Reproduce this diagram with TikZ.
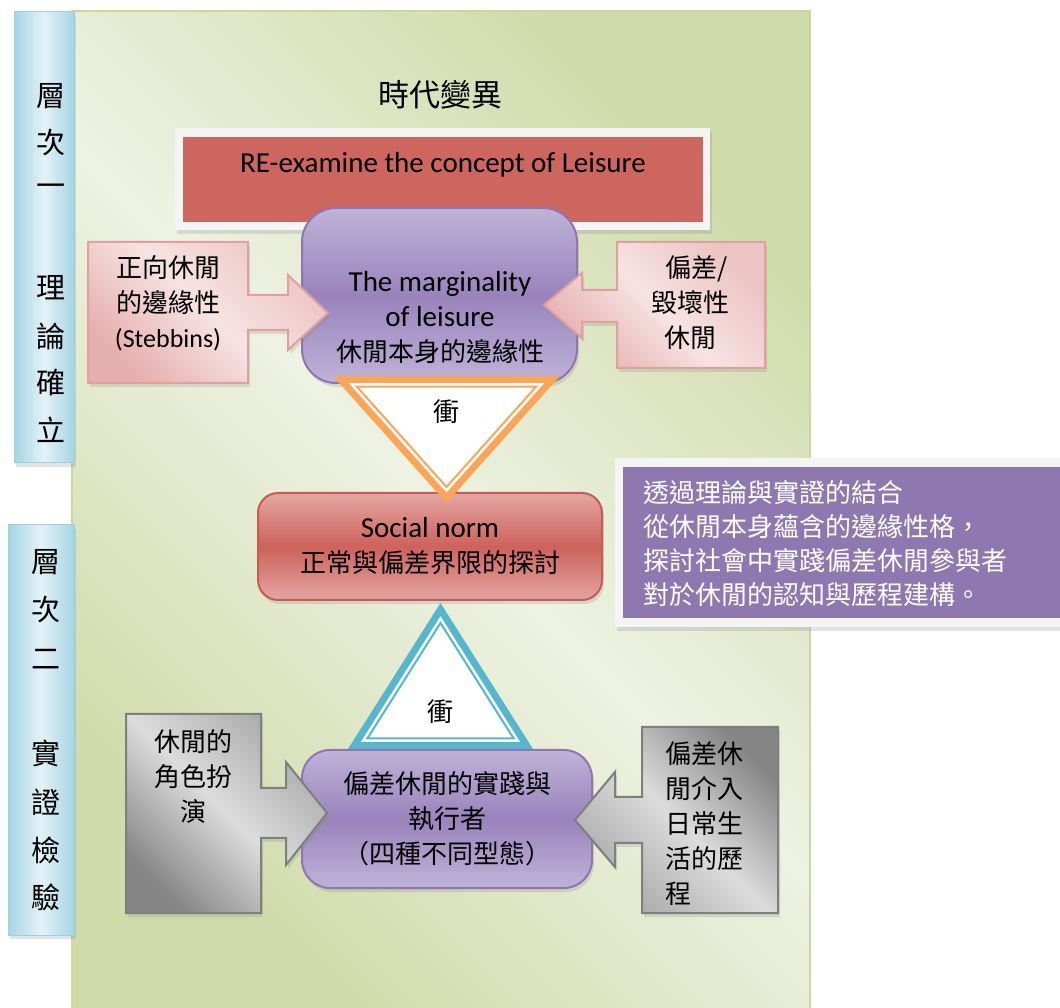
\documentclass[tikz,border=0pt]{standalone}
\usepackage{fontspec}
\setmainfont{Carlito}
\newfontfamily\cjk{Noto Sans CJK TC}
\usetikzlibrary{calc,shadows}

\definecolor{panellight}{HTML}{EEF2E3}
\definecolor{paneldark}{HTML}{CFDBA9}
\definecolor{panelline}{HTML}{C9D89F}
\definecolor{barblue}{HTML}{A4D5E4}
\definecolor{barlight}{HTML}{E4F2F8}
\definecolor{baredge}{HTML}{9CCFDF}
\definecolor{rered}{HTML}{CD665F}
\definecolor{framewhite}{HTML}{F4F4F4}
\definecolor{normred}{HTML}{CD625B}
\definecolor{normlight}{HTML}{E4A6A3}
\definecolor{normedge}{HTML}{C65B55}
\definecolor{purpedge}{HTML}{9274B3}
\definecolor{purpmid}{HTML}{9A83BC}
\definecolor{purplight}{HTML}{BFB3D8}
\definecolor{pinkedge}{HTML}{E0A0A0}
\definecolor{pinklight}{HTML}{F7E3E3}
\definecolor{pinkdark}{HTML}{E6AFAF}
\definecolor{greyedge}{HTML}{7F7F7F}
\definecolor{greylight}{HTML}{DCDCDC}
\definecolor{greymid}{HTML}{A8A8A8}
\definecolor{greydark}{HTML}{868686}
\definecolor{clashorange}{HTML}{F9A65A}
\definecolor{clashblue}{HTML}{55B6CE}
\definecolor{noteviolet}{HTML}{8F78AF}

\newcommand{\zh}[1]{{\cjk\fontsize{26}{35}\selectfont #1}}

\begin{document}
\begin{tikzpicture}
  \tikzset{
    softshadow/.style={drop shadow={opacity=0.22, shadow xshift=2pt, shadow yshift=-4pt}},
    panel/.style={draw=panelline, line width=1.5pt, top color=paneldark,
      bottom color=paneldark, middle color=panellight, shading angle=-45},
    levelbar/.style={draw=baredge, line width=1pt, left color=barblue,
      right color=barblue, middle color=barlight, softshadow},
    bartext/.style={font=\cjk\fontsize{29}{29}\selectfont},
    whiteframe/.style={fill=framewhite, softshadow, inner sep=0pt},
    purplebox/.style={draw=purpedge, line width=2pt, top color=purplight,
      bottom color=purplight, middle color=purpmid, softshadow, inner sep=0pt},
    normbox/.style={draw=normedge, line width=2pt, top color=normlight,
      bottom color=normlight, middle color=normred, rounded corners=20pt,
      softshadow, inner sep=0pt, align=center, font=\fontsize{29}{35}\selectfont},
    pinkarrow/.style={draw=pinkedge, line width=2pt, top color=pinkdark!60!pinklight,
      bottom color=pinkdark, middle color=pinklight, shading angle=-45, softshadow},
    greyarrow/.style={draw=greyedge, line width=2pt, softshadow},
    cjktext/.style={font=\cjk\fontsize{26}{35}\selectfont, align=center},
    latintext/.style={font=\fontsize{29}{35}\selectfont, align=center}
  }

  \useasboundingbox (0pt,0pt) rectangle (1060pt,1007pt);

  % background panel and level bars
  \draw[panel] (72pt,-2pt) rectangle (810pt,996pt);
  \draw[levelbar] (14pt,544pt) rectangle (74pt,995pt);
  \draw[levelbar] (8pt,72pt) rectangle (74pt,482pt);
  \foreach \ch/\yy in {層/911, 次/864, 一/817, 理/719, 論/671, 確/625, 立/577}
    \node[bartext] (barone\yy) at (51pt,\yy pt) {\ch};
  \foreach \ch/\yy in {層/445, 次/397, 二/348, 實/254, 證/205, 檢/157, 驗/110}
    \node[bartext] (bartwo\yy) at (46pt,\yy pt) {\ch};

  % title
  \node[font=\cjk\fontsize{31}{31}\selectfont] (era) at (440pt,912pt) {時代變異};

  % level one
  \node[whiteframe, minimum width=535pt, minimum height=102pt] (reframe) at (442.5pt,828pt) {};
  \node[fill=rered, inner sep=0pt, minimum width=520pt, minimum height=85pt] (rebox) at (443pt,827.5pt) {};
  \node[latintext] (retext) at (443pt,842pt) {RE-examine the concept of Leisure};

  \node[purplebox, rounded corners=34pt, minimum width=275pt, minimum height=175pt] (marg) at (439.5pt,711.5pt) {};
  \node[latintext] (margtext) at (440pt,690pt) {The marginality\\of leisure\\\zh{休閒本身的邊緣性}};

  \draw[pinkarrow] (88pt,765pt) -- (248pt,765pt) -- (248pt,712pt) -- (288pt,712pt)
    -- (288pt,732pt) -- (328pt,694pt) -- (288pt,657pt) -- (288pt,677pt)
    -- (248pt,677pt) -- (248pt,624pt) -- (88pt,624pt) -- cycle;
  \node[cjktext] (positive) at (168pt,704pt) {正向休閒\\的邊緣性\\{\fontspec{Carlito}(Stebbins)}};

  \draw[pinkarrow] (765pt,765pt) -- (617pt,765pt) -- (617pt,717pt) -- (582pt,717pt)
    -- (582pt,734pt) -- (544pt,702pt) -- (582pt,669pt) -- (582pt,685pt)
    -- (617pt,685pt) -- (617pt,639pt) -- (765pt,639pt) -- cycle;
  \node[cjktext] (deviant) at (690pt,704pt) {\hspace{14pt}偏差/\\毀壞性\\休閒};

  % social norm and the two clashes
  \node[normbox, minimum width=344pt, minimum height=107pt] (norm) at (430pt,460.5pt)
    {Social norm\\\zh{正常與偏差界限的探討}};

  \coordinate (ot1) at (333pt,631pt);
  \coordinate (ot2) at (560pt,631pt);
  \coordinate (ot3) at (446.5pt,504pt);
  \coordinate (oc) at (446.5pt,580.2pt);
  \fill[clashorange] (ot1) -- (ot2) -- (ot3) -- cycle;
  \fill[white] ($(oc)!.86!(ot1)$) -- ($(oc)!.86!(ot2)$) -- ($(oc)!.86!(ot3)$) -- cycle;
  \draw[clashorange, line width=2pt, fill=white]
    ($(oc)!.79!(ot1)$) -- ($(oc)!.79!(ot2)$) -- ($(oc)!.79!(ot3)$) -- cycle;
  \node[cjktext] (clashtop) at (446.5pt,595pt) {衝};

  \coordinate (bt1) at (348pt,258pt);
  \coordinate (bt2) at (533pt,258pt);
  \coordinate (bt3) at (440.5pt,404pt);
  \coordinate (bc) at (440.5pt,308.9pt);
  \fill[clashblue] (bt1) -- (bt2) -- (bt3) -- cycle;
  \fill[white] ($(bc)!.86!(bt1)$) -- ($(bc)!.86!(bt2)$) -- ($(bc)!.86!(bt3)$) -- cycle;
  \draw[clashblue, line width=2pt, fill=white]
    ($(bc)!.79!(bt1)$) -- ($(bc)!.79!(bt2)$) -- ($(bc)!.79!(bt3)$) -- cycle;
  \node[cjktext] (clashbottom) at (440.5pt,295pt) {衝};

  % level two
  \node[purplebox, rounded corners=28pt, minimum width=290pt, minimum height=138pt,
    cjktext] (practice) at (447pt,188pt) {偏差休閒的實踐與\\執行者\\（四種不同型態）};

  \draw[greyarrow, top color=greymid, bottom color=greydark, middle color=greylight, shading angle=-45]
    (126pt,293pt) -- (261pt,293pt) -- (261pt,219pt) -- (286pt,219pt)
    -- (286pt,245pt) -- (327pt,194pt) -- (286pt,142pt) -- (286pt,169pt)
    -- (261pt,169pt) -- (261pt,94pt) -- (126pt,94pt) -- cycle;
  \node[cjktext] (roleplay) at (193pt,230pt) {休閒的\\角色扮\\演};

  \draw[greyarrow, top color=greydark, bottom color=greymid, middle color=greylight, shading angle=-45]
    (778pt,280pt) -- (642pt,280pt) -- (642pt,210pt) -- (615pt,210pt)
    -- (615pt,235pt) -- (575pt,187pt) -- (615pt,140pt) -- (615pt,164pt)
    -- (642pt,164pt) -- (642pt,94pt) -- (778pt,94pt) -- cycle;
  \node[cjktext, align=left, anchor=west] (everyday) at (662pt,183pt) {偏差休\\閒介入\\日常生\\活的歷\\程};

  % note
  \node[whiteframe, minimum width=450pt, minimum height=169pt] (noteframe) at (840pt,464.5pt) {};
  \node[fill=noteviolet, inner sep=0pt, minimum width=440pt, minimum height=151pt] (notebox) at (843pt,464.5pt) {};
  \node[font=\cjk\fontsize{26}{34}\selectfont, text=white, align=left, anchor=west] (notetext) at (640pt,463pt)
    {透過理論與實證的結合\\從休閒本身蘊含的邊緣性格，\\探討社會中實踐偏差休閒參與者\\對於休閒的認知與歷程建構。};
\end{tikzpicture}
\end{document}
